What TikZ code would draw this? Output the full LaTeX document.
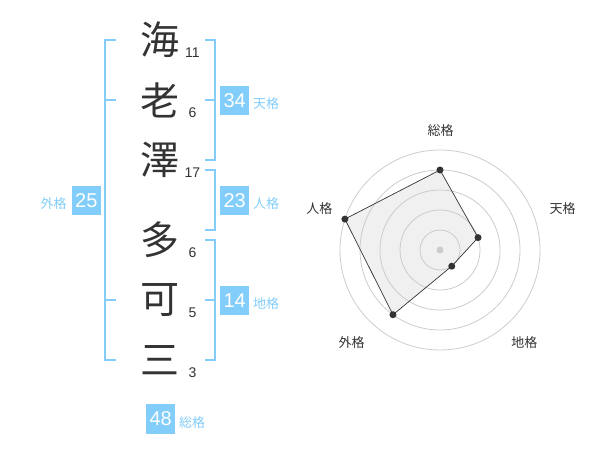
\documentclass[tikz,border=0pt]{standalone}
\usepackage{fontspec}
\setmainfont{Liberation Sans}
\newfontfamily\jp{Noto Sans CJK JP}
\definecolor{blu}{RGB}{130,205,250}
\definecolor{ink}{RGB}{51,51,51}
\definecolor{ring}{RGB}{204,204,204}
\definecolor{fillg}{RGB}{240,240,240}
\begin{document}
\begin{tikzpicture}[x=1pt,y=-1pt,
  kanji/.style={inner sep=0pt,text=ink,font=\jp\fontsize{39}{39}\selectfont},
  strk/.style={inner sep=0pt,text=ink,font=\fontsize{14}{14}\selectfont},
  valbox/.style={fill=blu,text=white,minimum width=29.5pt,minimum height=29.5pt,inner sep=0pt,font=\fontsize{20}{20}\selectfont},
  kaku/.style={inner sep=0pt,text=blu,font=\jp\fontsize{13}{13}\selectfont},
  brk/.style={draw=blu,line width=2pt},
  rlabel/.style={inner sep=0pt,text=ink,font=\jp\fontsize{13}{13}\selectfont},
  dot/.style={circle,fill=ink,inner sep=0pt,minimum size=7pt}]
\useasboundingbox (0,0) rectangle (600,470);
% kanji
\node[kanji] (k1) at (160,40) {海};
\node[kanji] (k2) at (160,100) {老};
\node[kanji] (k3) at (160,160) {澤};
\node[kanji] (k4) at (160,240) {多};
\node[kanji] (k5) at (160,300) {可};
\node[kanji] (k6) at (160,360) {三};
% stroke counts
\node[strk] (n1) at (192.5,53) {11};
\node[strk] (n2) at (192.5,113) {6};
\node[strk] (n3) at (192.5,173) {17};
\node[strk] (n4) at (192.5,253) {6};
\node[strk] (n5) at (192.5,313) {5};
\node[strk] (n6) at (192.5,373) {3};
% brackets
\draw[brk] (116,40) -- (105,40) -- (105,360) -- (116,360);
\draw[brk] (105,100) -- (116,100);
\draw[brk] (105,300) -- (116,300);
\draw[brk] (205,40) -- (214.5,40) -- (214.5,160) -- (205,160);
\draw[brk] (205,100) -- (214.5,100);
\draw[brk] (205,170) -- (214.5,170) -- (214.5,230) -- (205,230);
\draw[brk] (205,240) -- (214.5,240) -- (214.5,360) -- (205,360);
\draw[brk] (205,300) -- (214.5,300);
% value boxes
\node[valbox] (ten) at (234.7,100.3) {34};
\node[kaku] (tenl) at (266,104) {天格};
\node[valbox] (jin) at (234.7,200.3) {23};
\node[kaku] (jinl) at (266,204) {人格};
\node[valbox] (chi) at (234.7,300.3) {14};
\node[kaku] (chil) at (266,304) {地格};
\node[valbox] (gai) at (86.3,200.3) {25};
\node[kaku] (gail) at (53.5,203.5) {外格};
\node[valbox] (sou) at (160.7,419) {48};
\node[kaku] (soul) at (192,422.5) {総格};
% radar
\begin{scope}[shift={(440,250)}]
  \coordinate (ps) at (-90:80);
  \coordinate (pt) at (-18:40);
  \coordinate (pc) at (54:20);
  \coordinate (pg) at (126:80);
  \coordinate (pj) at (-162:100);
  \fill[fillg] (ps) -- (pt) -- (pc) -- (pg) -- (pj) -- cycle;
  \foreach \r in {20,40,60,80,100} \draw[ring,line width=0.8pt] (0,0) circle (\r);
  \fill[ring] (0,0) circle (3.5);
  \draw[draw=ink,line width=0.7pt] (ps) -- (pt) -- (pc) -- (pg) -- (pj) -- cycle;
  \foreach \p in {ps,pt,pc,pg,pj} \node[dot] at (\p) {};
  \node[rlabel] (rs) at (0.7,-119) {総格};
  \node[rlabel] (rt) at (122.7,-41) {天格};
  \node[rlabel] (rj) at (-120.7,-41) {人格};
  \node[rlabel] (rg) at (-88.3,92.3) {外格};
  \node[rlabel] (rc) at (84.3,92.3) {地格};
\end{scope}
\end{tikzpicture}
\end{document}
